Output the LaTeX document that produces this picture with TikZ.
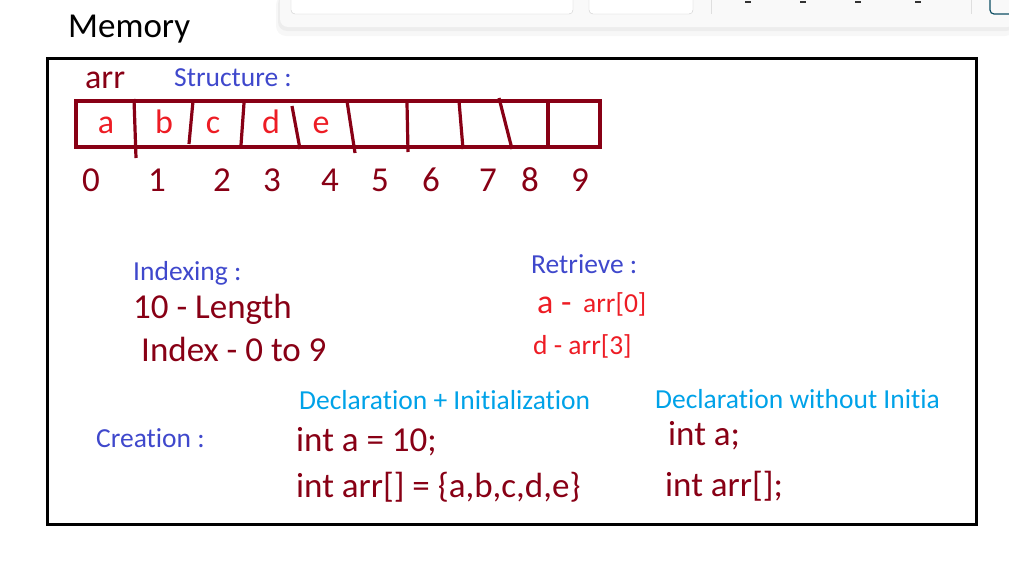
\documentclass[tikz,border=0pt]{standalone}
\usepackage{fontspec}
\setmainfont{Carlito}[Ligatures=NoCommon]
\usetikzlibrary{positioning}
\definecolor{darkred}{HTML}{880015}
\definecolor{paintred}{HTML}{ED1C24}
\definecolor{indigo}{HTML}{3F48CC}
\definecolor{turquoise}{HTML}{00A2E8}
\definecolor{teal}{HTML}{0F5064}

\begin{document}
\begin{tikzpicture}[x=1pt, y=-1pt,
  big/.style = {anchor=base west, inner sep=0pt, text=darkred, font=\fontsize{35}{40}\selectfont},
  head/.style = {anchor=base west, inner sep=0pt, text=indigo, font=\fontsize{27.5}{32}\selectfont},
  decl/.style = {head, text=turquoise},
  cell/.style = {anchor=base, inner sep=0pt, text=paintred, font=\fontsize{34}{38}\selectfont},
  idx/.style = {anchor=base, inner sep=0pt, text=darkred, font=\fontsize{35}{40}\selectfont},
  get/.style = {anchor=base west, inner sep=0pt, text=paintred, font=\fontsize{27.5}{32}\selectfont},
  wall/.style = {draw=darkred, line width=3.2pt}]
            \useasboundingbox (0,0) rectangle (1009,562);
            % Toolbar
            \fill[black, opacity=0.03, rounded corners=10pt] (276,-5) rectangle (1015,36);
            \fill[black, opacity=0.04, rounded corners=9pt] (278,-5) rectangle (1015,31);
            \fill[fill={rgb,255:red,249;green,249;blue,249}, rounded corners=8pt] (280,-8) rectangle (1015,27);
            \draw[gray!40, fill=white, rounded corners=4pt] (291,-8) rectangle (573,14);
            \draw[gray!40, fill=white, rounded corners=4pt] (589,-8) rectangle (693,14);
            \draw[gray!25] (711,0) -- (711,14);
            \draw[gray!25] (971,0) -- (971,14);
            \foreach \x in {748,803,858,918}
              \draw[black!80, line width=1.5pt] (\x-3,2) -- (\x+3,2);
            \draw[teal, line width=1.2pt, rounded corners=4pt] (1020,14) -- (990,14) -- (990,-8);
            % Frame
            \node[anchor=base west, inner sep=0pt, font=\fontsize{35}{40}\selectfont] (memory) at (68,37) {Memory};
            \draw[line width=3pt] (47,58) rectangle (976,524);
            % Array
            \node[big, font=\fontsize{34}{38}\selectfont] (arr) at (85,88) {arr};
            \node[head] (structure) at (174,86) {Structure :};
            \draw[wall] (76,101) rectangle (600,147);
            \draw[wall] (134,99) -- (136,158);
            \draw[wall] (193,101) -- (189,144);
            \draw[wall] (244,103) -- (241,145);
            \draw[wall] (292,106) -- (300,149);
            \draw[wall] (347,101) -- (355,153);
            \draw[wall] (407,103) -- (408,152);
            \draw[wall] (459,101) -- (463,149);
            \draw[wall] (499,98) -- (512,149);
            \draw[wall] (548,101) -- (548,147);
            \foreach \c/\x in {a/106,b/164,c/213,d/271,e/321}
              \node[cell] (cell\c) at (\x,133) {\c};
            \foreach \i/\x in {0/91,1/157,2/222,3/272,4/330,5/380,6/431,7/488,8/530,9/580}
              \node[idx] (idx\i) at (\x,191) {\i};
            % Indexing
            \node[head] (indexing) at (133,280) {Indexing :};
            \node[big] (length) at (133,318) {10 - Length};
            \node[big] (range) at (141,361) {Index - 0 to 9};
            % Retrieve
            \node[head] (retrieve) at (531,273) {Retrieve :};
            \node[get, font=\fontsize{34}{38}\selectfont] (geta) at (537,313) {a -};
            \node[get] (arr0) at (583,312) {arr[0]};
            \node[get] (getd) at (533,354) {d - arr[3]};
            % Creation
            \node[head] (creation) at (96,447) {Creation :};
            \node[decl] (init) at (299,409) {Declaration + Initialization};
            \node[decl] (noinit) at (655,408) {Declaration without Initia};
            \node[big] (inta) at (296,451) {int a = 10;};
            \node[big] (intarr) at (296,497) {int arr[] = \{a,b,c,d,e\}};
            \node[big] (decla) at (668,445) {int a;};
            \node[big] (declarr) at (665,496) {int arr[];};
\end{tikzpicture}
\end{document}
